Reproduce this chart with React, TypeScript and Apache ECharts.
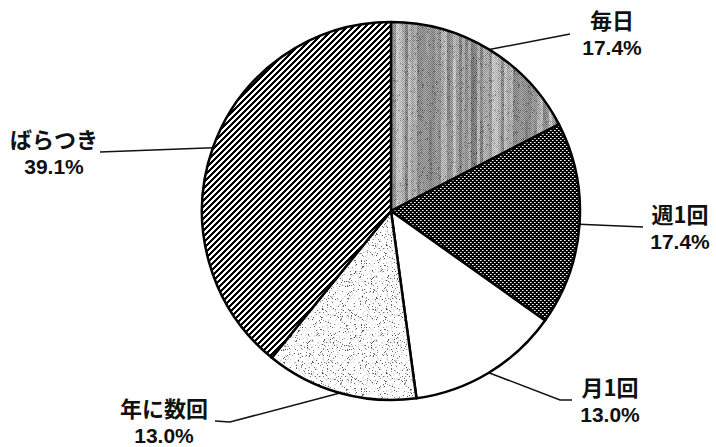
import React, { useEffect, useRef } from 'react';
import * as echarts from 'echarts';

// ---- data ----
const categories = ['毎日', '週1回', '月1回', '年に数回', 'ばらつき'];
const shares = [17.4, 17.4, 13.0, 13.0, 39.1];

// ---- label layout (positions only) ----
const labelCenters: number[][] = [
  [612, 33],
  [680, 227],
  [610, 400],
  [164, 421],
  [54, 152],
];
const lineBends: number[][][] = [
  [[570, 34]],
  [[643, 227]],
  [[560, 400], [572, 400]],
  [[230, 422], [215, 421]],
  [[100, 152]],
];

function hash(x: number, y: number) {
  const s = Math.sin(x * 127.1 + y * 311.7) * 43758.5453;
  return s - Math.floor(s);
}

function pixelCanvas(w: number, h: number, shade: (x: number, y: number) => number) {
  const c = document.createElement('canvas');
  c.width = w;
  c.height = h;
  const ctx = c.getContext('2d') as CanvasRenderingContext2D;
  const img = ctx.createImageData(w, h);
  for (let y = 0; y < h; y++) {
    for (let x = 0; x < w; x++) {
      const v = Math.max(0, Math.min(255, shade(x, y)));
      const i = (y * w + x) * 4;
      img.data[i] = v; img.data[i + 1] = v; img.data[i + 2] = v; img.data[i + 3] = 255;
    }
  }
  ctx.putImageData(img, 0, 0);
  return c;
}

const grayStreaks = () =>
  pixelCanvas(96, 200, (x, y) => {
    const band = Math.floor(x / 3);
    let v = 155 + 70 * (hash(band, 7) - 0.5);
    v += 18 * (hash(band, Math.floor(y / 60)) - 0.5);
    v += (x + y) % 2 ? 24 : -24;
    if (hash(x, y) < 0.05) v -= 60;
    return Math.max(30, Math.min(235, v));
  });

const speckle = () =>
  pixelCanvas(64, 64, (x, y) => {
    const r = hash(x + 3, y + 11);
    if (r < 0.08) return 70 + 90 * hash(x, y + 50);
    if (r < 0.16) return 215;
    return 255;
  });

const checker = () =>
  pixelCanvas(4, 4, (x, y) => {
    if ((x === 0 && y === 0) || (x === 2 && y === 2)) return 255;
    if ((x === 1 && y === 0) || (x === 3 && y === 2)) return 150;
    return 0;
  });

const hatch = () => pixelCanvas(6, 6, (x, y) => ((x + y) % 6 < 3 ? 0 : 255));

export default function App() {
  const ref = useRef<HTMLDivElement>(null);
  useEffect(() => {
    document.body.style.margin = '0';
    if (!ref.current) return;
    const chart = echarts.init(ref.current, undefined, { renderer: 'svg' });
    const fills: any[] = [
      { image: grayStreaks(), repeat: 'repeat' },
      { image: checker(), repeat: 'repeat' },
      '#ffffff',
      { image: speckle(), repeat: 'repeat' },
      { image: hatch(), repeat: 'repeat' },
    ];
    const data = categories.map((name, i) => ({
      name,
      value: shares[i],
      itemStyle: { color: fills[i] },
    }));
    chart.setOption({
      animation: false,
      backgroundColor: '#ffffff',
      series: [
        {
          type: 'pie',
          center: [391, 211],
          radius: [0, 189],
          startAngle: 90,
          clockwise: true,
          silent: true,
          data,
          itemStyle: { borderColor: '#000', borderWidth: 2.5 },
          emphasis: { disabled: true },
          label: {
            show: true,
            position: 'outside',
            color: '#111',
            formatter: (p: any) => `{n|${p.name}}\n{v|${Number(p.value).toFixed(1)}%}`,
            rich: {
              n: {
                fontSize: 22,
                fontFamily: '"Noto Sans CJK JP", sans-serif',
                fontWeight: 'bold',
                lineHeight: 28,
                color: '#111',
                align: 'center',
              },
              v: {
                fontSize: 21,
                fontFamily: '"Liberation Sans Narrow", "Liberation Sans", sans-serif',
                fontWeight: 'bold',
                lineHeight: 28,
                color: '#111',
                align: 'center',
              },
            },
          },
          labelLine: {
            show: true,
            length: 10,
            length2: 10,
            lineStyle: { color: '#111', width: 1.5 },
          },
          labelLayout: (params: any) => {
            const i = params.dataIndex;
            const start = params.labelLinePoints ? params.labelLinePoints[0] : undefined;
            const pts = start ? [start, ...lineBends[i]] : undefined;
            return {
              x: labelCenters[i][0],
              y: labelCenters[i][1],
              align: 'center',
              verticalAlign: 'middle',
              labelLinePoints: pts,
            };
          },
        },
      ],
    });
    return () => chart.dispose();
  }, []);
  return <div ref={ref} style={{ width: 716, height: 447 }} />;
}
